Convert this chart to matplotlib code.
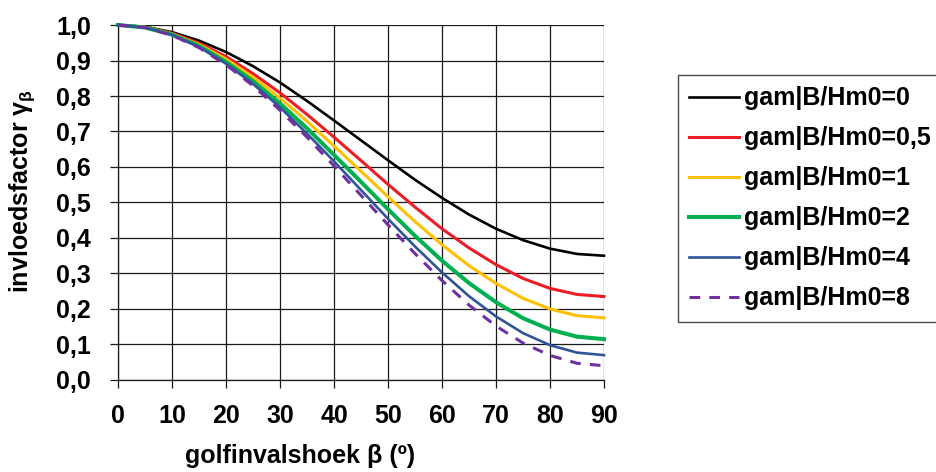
import matplotlib.pyplot as plt

plt.rcParams['font.family'] = ['Liberation Sans', 'DejaVu Sans']
plt.rcParams['font.weight'] = 'bold'
plt.rcParams['mathtext.default'] = 'regular'

# golfinvalshoek (graden)
beta = [0, 5, 10, 15, 20, 25, 30, 35, 40, 45, 50, 55, 60, 65, 70, 75, 80, 85, 90]

# invloedsfactor per B/Hm0
g_0 = [1.000, 0.995, 0.980, 0.956, 0.924, 0.884, 0.838, 0.786, 0.731, 0.675,
       0.619, 0.564, 0.513, 0.466, 0.426, 0.394, 0.370, 0.355, 0.350]
g_05 = [1.000, 0.994, 0.977, 0.949, 0.911, 0.863, 0.809, 0.748, 0.684, 0.618,
        0.551, 0.487, 0.426, 0.372, 0.325, 0.286, 0.258, 0.241, 0.235]
g_1 = [1.000, 0.994, 0.975, 0.945, 0.904, 0.853, 0.794, 0.729, 0.659, 0.588,
       0.516, 0.446, 0.381, 0.322, 0.272, 0.230, 0.200, 0.181, 0.175]
g_2 = [1.000, 0.993, 0.973, 0.941, 0.896, 0.842, 0.779, 0.709, 0.634, 0.558,
       0.481, 0.406, 0.336, 0.273, 0.219, 0.174, 0.142, 0.122, 0.115]
g_4 = [1.000, 0.993, 0.972, 0.938, 0.891, 0.834, 0.768, 0.694, 0.616, 0.535,
       0.454, 0.376, 0.303, 0.236, 0.179, 0.132, 0.098, 0.077, 0.070]
g_8 = [1.000, 0.993, 0.971, 0.936, 0.888, 0.829, 0.760, 0.684, 0.603, 0.520,
       0.437, 0.356, 0.280, 0.211, 0.152, 0.104, 0.069, 0.047, 0.040]

labels = ['gam|B/Hm0=0', 'gam|B/Hm0=0,5', 'gam|B/Hm0=1',
          'gam|B/Hm0=2', 'gam|B/Hm0=4', 'gam|B/Hm0=8']
series = [g_0, g_05, g_1, g_2, g_4, g_8]
colors = ['#000000', '#ee1c25', '#ffc000', '#00b050', '#2f5597', '#7030a0']
widths = [1.9, 2.2, 2.2, 2.9, 1.9, 2.2]

fig = plt.figure(figsize=(9.37, 4.72), dpi=100)
ax = fig.add_axes([0.126, 0.195, 0.5186, 0.752])

for y, lab, c, w in zip(series, labels, colors, widths):
    ls = (0, (3.5, 3)) if lab.endswith('=8') else '-'
    ax.plot(beta, y, color=c, lw=w, ls=ls, label=lab, clip_on=False, zorder=3)

ax.set_xlim(0, 90)
ax.set_ylim(0, 1)
ax.set_xticks(range(0, 91, 10))
yt = [i / 10 for i in range(11)]
ax.set_yticks(yt)
ax.set_yticklabels([f'{v:.1f}'.replace('.', ',') for v in yt])
ax.grid(True, color='#1a1a1a', lw=0.9)
ax.set_axisbelow(True)
for s in ['top', 'right']:
    ax.spines[s].set_visible(False)
for s in ['left', 'bottom']:
    ax.spines[s].set_color('#1a1a1a')
    ax.spines[s].set_linewidth(0.9)
ax.tick_params(axis='x', labelsize=18, length=6, width=0.9, color='#1a1a1a', pad=11)
ax.tick_params(axis='y', labelsize=18, length=5.5, width=0.9, color='#1a1a1a', pad=14)

fig.text(22 / 937, 1 - 191 / 472, r'invloedsfactor $\gamma_\beta$', fontsize=18,
         fontweight='bold', rotation=90, ha='center', va='center')
fig.text(0.32, 0.033, 'golfinvalshoek β (º)', fontsize=18, fontweight='bold',
         ha='center', va='center')

leg = ax.legend(loc='upper left', bbox_to_anchor=(678 / 937, 1 - 75 / 472),
                bbox_transform=fig.transFigure, borderaxespad=0, fontsize=18,
                frameon=True, fancybox=False, edgecolor='#1a1a1a',
                handlelength=2.0, handletextpad=0.2, labelspacing=0.64,
                borderpad=0.45)
leg.get_frame().set_linewidth(1.0)

fig.savefig('out.png', dpi=100)
